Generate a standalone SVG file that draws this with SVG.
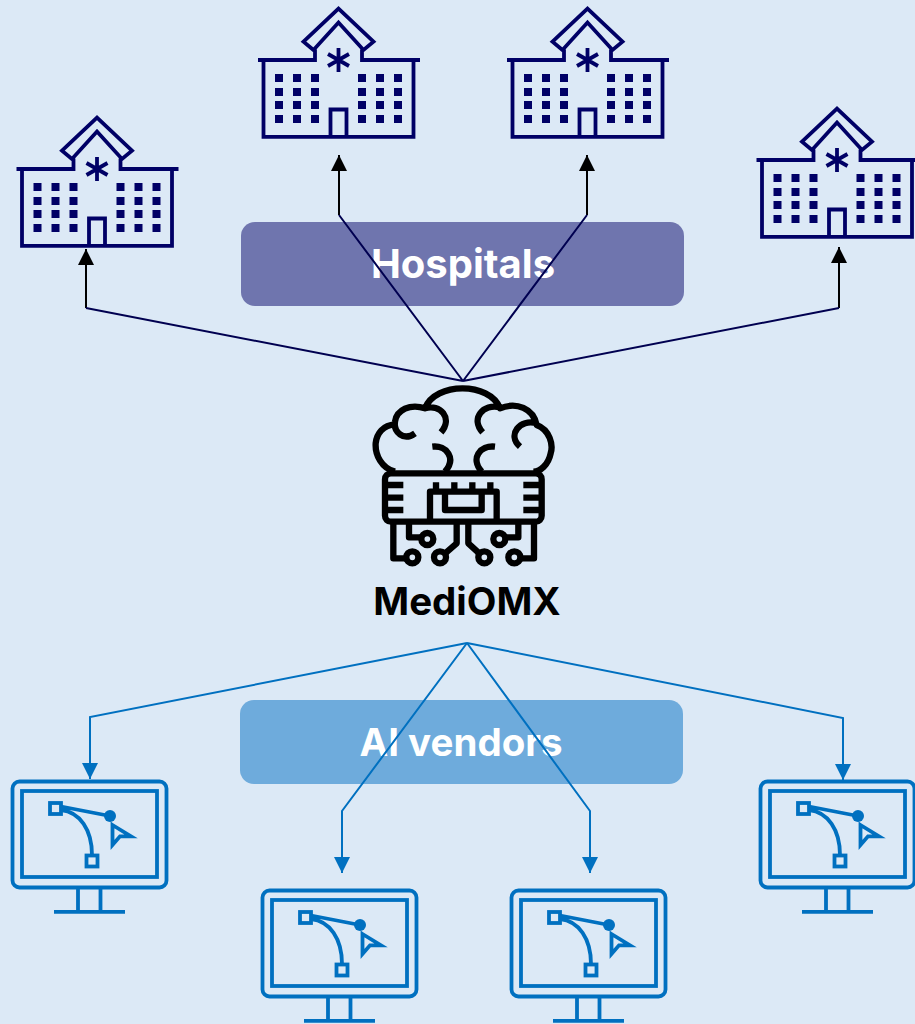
<svg xmlns="http://www.w3.org/2000/svg" width="915" height="1024" viewBox="0 0 915 1024">
<style>
.h{fill:none;stroke:#000066;stroke-width:3.8}
.hw{fill:#000066}
.m{fill:none;stroke:#0070c0;stroke-width:3.8}
.mf{fill:#0070c0}
.b{fill:none;stroke:#000;stroke-width:19;stroke-linecap:butt;stroke-linejoin:round}
.c1{fill:none;stroke:#000050;stroke-width:2}
.c0{fill:none;stroke:#000;stroke-width:2}
.c2{fill:none;stroke:#0070c0;stroke-width:2}
.t{font-family:"Inter","Noto Sans",sans-serif;font-weight:700;text-anchor:middle;font-size:38.500px}
</style>
<defs>
<marker id="ab" markerUnits="userSpaceOnUse" markerWidth="16" markerHeight="16" refX="16" refY="8" orient="auto"><path d="M0,0L16,8L0,16z" fill="#000"/></marker>
<marker id="ac" markerUnits="userSpaceOnUse" markerWidth="16" markerHeight="16" refX="16" refY="8" orient="auto"><path d="M0,0L16,8L0,16z" fill="#0070c0"/></marker>
<g id="hosp">
<path class="h" d="M-80.500,60H-23.500V49.500M23.500,49.500V60H81.500M-75,60V136.800H75V60M-8,136.800V109.500H8V136.800M-25,50L-35,41.700L0,8.500L35,41.700L25,50L0,22.500Z"/>
<path class="h" d="M0,48V72M-10.500,54L10.500,66M10.500,54L-10.500,66"/>
<g class="hw">
<rect x="-63.500" y="74" width="8" height="8"/><rect x="-45.500" y="74" width="8" height="8"/><rect x="-27.500" y="74" width="8" height="8"/><rect x="19.500" y="74" width="8" height="8"/><rect x="37.500" y="74" width="8" height="8"/><rect x="55.500" y="74" width="8" height="8"/>
<rect x="-63.500" y="88" width="8" height="8"/><rect x="-45.500" y="88" width="8" height="8"/><rect x="-27.500" y="88" width="8" height="8"/><rect x="19.500" y="88" width="8" height="8"/><rect x="37.500" y="88" width="8" height="8"/><rect x="55.500" y="88" width="8" height="8"/>
<rect x="-63.500" y="101" width="8" height="8"/><rect x="-45.500" y="101" width="8" height="8"/><rect x="-27.500" y="101" width="8" height="8"/><rect x="19.500" y="101" width="8" height="8"/><rect x="37.500" y="101" width="8" height="8"/><rect x="55.500" y="101" width="8" height="8"/>
<rect x="-63.500" y="115" width="8" height="8"/><rect x="-45.500" y="115" width="8" height="8"/><rect x="-27.500" y="115" width="8" height="8"/><rect x="19.500" y="115" width="8" height="8"/><rect x="37.500" y="115" width="8" height="8"/><rect x="55.500" y="115" width="8" height="8"/>
</g>
</g>
<g id="mon">
<rect class="m" x="12.500" y="781.500" width="154" height="106" rx="7"/>
<rect class="m" x="22" y="791" width="135" height="86"/>
<path class="m" d="M78,888V911M100.500,888V911M54,911.800H125"/>
<rect class="m" x="50" y="803" width="11" height="11"/>
<rect class="m" x="86.500" y="855.500" width="11" height="11"/>
<path class="m" d="M61,806.500L110,816M61,810C80,812 92,830 92,855"/>
<circle class="mf" cx="110" cy="816" r="6"/>
<path class="m" d="M112.500,825L131,836.300H120L112.500,845Z"/>
</g>
</defs>
<rect width="915" height="1024" fill="#dce9f6"/>
<rect x="241" y="222" width="443" height="84" rx="14" fill="#6f75ae"/>
<rect x="240" y="700" width="443" height="84" rx="14" fill="#6eabdc"/>
<g id="label-hospitals"><text class="t" x="463" y="278" fill="#fff" style="font-size:40px">Hospitals</text></g>
<g id="label-vendors"><text class="t" x="461" y="756" fill="#fff">AI vendors</text></g>
<g id="connectors">
<path class="c0" marker-end="url(#ab)" d="M86,308V249"/>
<path class="c0" marker-end="url(#ab)" d="M339,215V155"/>
<path class="c0" marker-end="url(#ab)" d="M587,215V155"/>
<path class="c0" marker-end="url(#ab)" d="M839,308V247"/>
<path class="c1" d="M463,381L86,308M463,381L339,215M463,381L587,215M463,381L839,308"/>
<path class="c2" marker-end="url(#ac)" d="M467,643L90,717V779"/>
<path class="c2" marker-end="url(#ac)" d="M467,643L342,811V873"/>
<path class="c2" marker-end="url(#ac)" d="M467,643L590,811V873"/>
<path class="c2" marker-end="url(#ac)" d="M467,643L843,718V780"/>
</g>
<g id="hospital-1"><use href="#hosp" x="97" y="109"/></g>
<g id="hospital-2"><use href="#hosp" x="338.500" y="0"/></g>
<g id="hospital-3"><use href="#hosp" x="587.500" y="0"/></g>
<g id="hospital-4"><use href="#hosp" x="837" y="100"/></g>
<g id="mediomx">
<g transform="translate(360 375) scale(.33333)">
<path class="b" d="M105,290C65,280 45,240 47,205C50,175 70,150 105,148M165,175C130,200 100,170 105,140C110,105 150,85 195,100C225,20 390,20 420,100C470,80 520,100 530,150C570,165 580,210 572,235C565,270 540,290 520,290M195,100C240,85 280,130 243,172M420,97C370,85 330,130 368,172M530,145C480,130 440,180 480,215M217,215C260,210 290,250 255,290M405,215C360,210 330,250 365,290"/>
<rect class="b" x="75" y="295" width="470" height="145" rx="18"/>
<path class="b" d="M80,330H130M80,368H130M80,405H130M490,330H540M490,368H540M490,405H540M210,435V350H410V435M255,350V405H365V350M228,322V350M283,322V350M337,322V350M391,322V350M100,445V550H140M147,445V487H185M290,445V505L252,538M325,445V505L361,538M475,445V487H435M522,445V550H480"/>
<circle class="b" cx="157" cy="547" r="18"/><circle class="b" cx="202" cy="492" r="18"/><circle class="b" cx="240" cy="547" r="18"/><circle class="b" cx="373" cy="547" r="18"/><circle class="b" cx="418" cy="492" r="18"/><circle class="b" cx="463" cy="547" r="18"/>
</g>
<text class="t" x="467" y="615" fill="#000">MediOMX</text>
</g>
<g id="vendor-1"><use href="#mon"/></g>
<g id="vendor-2"><use href="#mon" x="250" y="109"/></g>
<g id="vendor-3"><use href="#mon" x="499" y="109"/></g>
<g id="vendor-4"><use href="#mon" x="748" y="0"/></g>
</svg>
